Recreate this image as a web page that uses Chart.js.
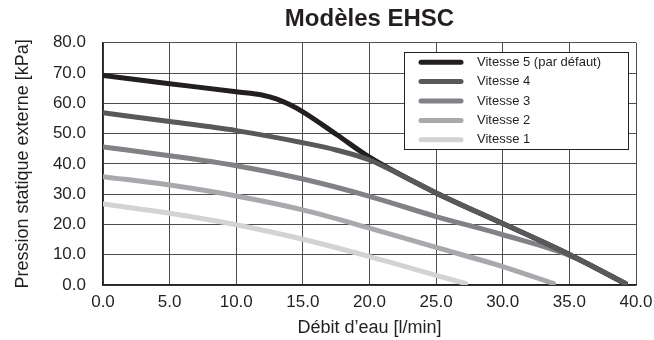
<!DOCTYPE html>
<html>
<head>
<meta charset="utf-8">
<title>Modèles EHSC</title>
<script src="https://cdn.jsdelivr.net/npm/chart.js@4"></script>
<style>
  html, body { margin: 0; padding: 0; background: #fff; }
  #wrap { width: 654px; height: 340px; }
</style>
</head>
<body>
<div id="wrap"><canvas id="pressChart" width="654" height="340"></canvas></div>
<script>
// débit d'eau [l/min] et pression [kPa]
const seriesNames = ['Vitesse 5 (par défaut)', 'Vitesse 4', 'Vitesse 3', 'Vitesse 2', 'Vitesse 1'];

const flowV5 = [0, 5, 10, 12, 13, 14, 15, 17.5, 20, 25, 30, 35, 39.2];
const presV5 = [69.2, 66.5, 63.8, 62.7, 61.5, 59.6, 57.2, 49.8, 42.2, 30.4, 20.3, 10.1, 0.5];

const flowV4 = [0, 5, 10, 15, 17.5, 20, 22.5, 25, 30, 35, 39.2];
const presV4 = [56.9, 54.0, 51.0, 47.0, 44.6, 41.3, 36.0, 30.4, 20.3, 10.1, 0.5];

const flowV3 = [0, 5, 10, 15, 20, 25, 30, 35, 39.2];
const presV3 = [45.6, 42.7, 39.4, 35.0, 29.3, 22.6, 16.6, 9.8, 0.5];

const flowV2 = [0, 5, 10, 15, 20, 25, 30, 33.8];
const presV2 = [35.8, 33.0, 29.4, 24.8, 18.8, 12.4, 6.1, 0.5];

const flowV1 = [0, 5, 10, 15, 20, 25, 27.2];
const presV1 = [26.8, 23.7, 19.9, 15.1, 9.4, 3.2, 0.5];

const lineColors = ['#231f20', '#58595b', '#808285', '#a7a9ac', '#d1d3d4'];
const drawOrder = [1, 0, 2, 3, 4];

const FONT = "'Liberation Sans', Arial, sans-serif";

function toPoints(xs, ys) {
  return xs.map((x, i) => ({ x: x, y: ys[i] }));
}

const allFlows = [flowV5, flowV4, flowV3, flowV2, flowV1];
const allPres = [presV5, presV4, presV3, presV2, presV1];

const datasets = seriesNames.map((name, i) => ({
  label: name,
  data: toPoints(allFlows[i], allPres[i]),
  borderColor: lineColors[i],
  backgroundColor: lineColors[i],
  borderWidth: 5,
  pointRadius: 0,
  fill: false,
  cubicInterpolationMode: 'monotone',
  borderCapStyle: 'round',
  borderJoinStyle: 'round',
  order: drawOrder[i]
}));

// légende dessinée dans la zone du graphique (en haut à droite)
const insideLegend = {
  id: 'insideLegend',
  afterDatasetsDraw(chart) {
    const ctx = chart.ctx;
    const xs = chart.scales.x;
    const ys = chart.scales.y;
    const left = Math.round(xs.getPixelForValue(22.6));
    const right = Math.round(xs.getPixelForValue(39.4));
    const top = Math.round(ys.getPixelForValue(77.0));
    const bottom = Math.round(ys.getPixelForValue(45.0));
    ctx.save();
    ctx.fillStyle = '#fff';
    ctx.fillRect(left, top, right - left, bottom - top);
    ctx.strokeStyle = '#231f20';
    ctx.lineWidth = 1;
    ctx.strokeRect(left + 0.5, top + 0.5, right - left, bottom - top);
    const rowH = (bottom - top) / seriesNames.length;
    ctx.font = '13px ' + FONT;
    ctx.textBaseline = 'middle';
    ctx.lineCap = 'round';
    seriesNames.forEach((name, i) => {
      const y = top + rowH * (i + 0.5) + 0.5;
      ctx.strokeStyle = lineColors[i];
      ctx.lineWidth = 5;
      ctx.beginPath();
      ctx.moveTo(left + 17, y);
      ctx.lineTo(left + 57, y);
      ctx.stroke();
      ctx.fillStyle = '#231f20';
      ctx.fillText(name, left + 73, y);
    });
    ctx.restore();
  }
};

const ctx = document.getElementById('pressChart').getContext('2d');
new Chart(ctx, {
  type: 'line',
  data: { datasets },
  plugins: [insideLegend],
  options: {
    responsive: false,
    animation: false,
    layout: { padding: { left: 0, right: 18, top: 0, bottom: 0 } },
    plugins: {
      legend: { display: false },
      tooltip: { enabled: false },
      title: {
        display: true,
        fullSize: false,
        text: 'Modèles EHSC',
        color: '#231f20',
        font: { family: FONT, size: 24, weight: 'bold' },
        padding: { top: 5, bottom: 9 }
      }
    },
    scales: {
      x: {
        type: 'linear',
        min: 0,
        max: 40,
        afterFit(scale) {
          scale.height = 55;
          scale.paddingRight = 0;
        },
        ticks: {
          stepSize: 5,
          padding: 7,
          color: '#231f20',
          font: { family: FONT, size: 17 },
          maxRotation: 0,
          callback: v => v.toFixed(1)
        },
        grid: { color: '#4d4d4d', lineWidth: 1, drawTicks: false },
        border: { color: '#231f20', width: 1.5 },
        title: {
          display: true,
          text: 'Débit d’eau [l/min]',
          color: '#231f20',
          font: { family: FONT, size: 18 },
          padding: { top: 0, bottom: 1 }
        }
      },
      y: {
        min: 0,
        max: 80,
        afterFit(scale) { scale.width = 103; },
        ticks: {
          stepSize: 10,
          padding: 17,
          color: '#231f20',
          font: { family: FONT, size: 17 },
          callback: v => v.toFixed(1)
        },
        grid: { color: '#4d4d4d', lineWidth: 1, drawTicks: false },
        border: { color: '#231f20', width: 1.5 },
        title: {
          display: true,
          text: 'Pression statique externe [kPa]',
          color: '#231f20',
          font: { family: FONT, size: 18 },
          padding: { top: 12, bottom: 0 }
        }
      }
    }
  }
});
</script>
</body>
</html>
